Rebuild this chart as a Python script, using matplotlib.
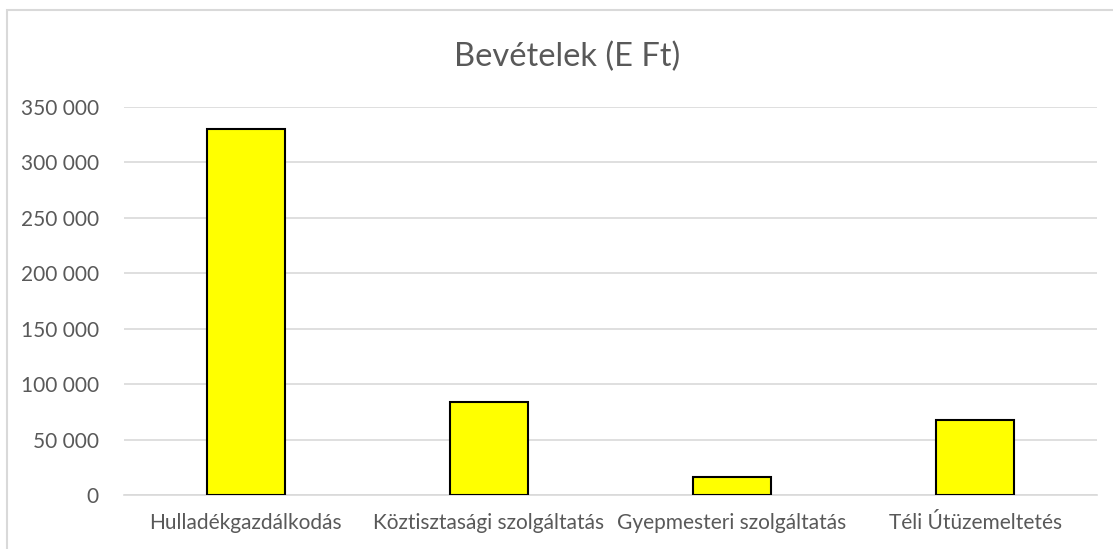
import matplotlib
matplotlib.use("Agg")
import matplotlib.pyplot as plt
from matplotlib.patches import Rectangle
from matplotlib.ticker import FuncFormatter

# chart data
categories = ["Hulladékgazdálkodás", "Köztisztasági szolgáltatás",
              "Gyepmesteri szolgáltatás", "Téli Útüzemeltetés"]
values = [330000, 84000, 16300, 68000]
yticks = [0, 50000, 100000, 150000, 200000, 250000, 300000, 350000]

plt.rcParams['font.family'] = ['Lato', 'DejaVu Sans']

fig = plt.figure(figsize=(11.13, 5.49), dpi=100)
ax = fig.add_axes([0.1114, 0.0984, 0.8742, 0.7066])

x = range(len(categories))
ax.bar(x, values, width=0.32, color="#ffff00", edgecolor="black", linewidth=1.5, zorder=3)

ax.set_xlim(-0.5, len(categories) - 0.5)
ax.set_ylim(0, 350000)
ax.set_yticks(yticks)
ax.yaxis.set_major_formatter(FuncFormatter(lambda v, p: f"{int(v):,}".replace(",", " ")))
ax.set_xticks(list(x))
ax.set_xticklabels(categories)

ax.grid(axis="y", color="#d9d9d9", linewidth=1.2, zorder=0)
for s in ["top", "right", "left"]:
    ax.spines[s].set_visible(False)
ax.spines["bottom"].set_color("#d9d9d9")
ax.spines["bottom"].set_linewidth(1.2)
ax.tick_params(axis="both", length=0, labelsize=15, colors="#595959")
ax.tick_params(axis="x", pad=13)
ax.tick_params(axis="y", pad=18)

# title is centred on the whole chart area, not on the plot
fig.text(567 / 1113, 1 - 57 / 549, "Bevételek (E Ft)", fontsize=23.5, color="#595959",
         ha="center", va="center")

# outer chart border (left and top edges visible)
fig.patches.append(Rectangle((7 / 1113, -0.1), 1.2, 1.1 - 10 / 549, transform=fig.transFigure,
                             fill=False, edgecolor="#d9d9d9", linewidth=1.5))

fig.savefig("out.png", dpi=100)
